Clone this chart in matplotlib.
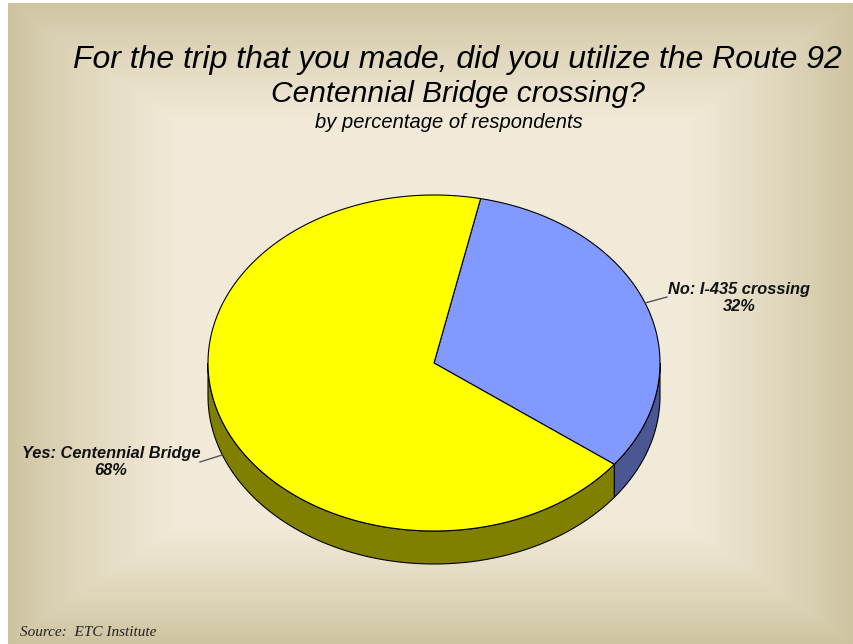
import numpy as np
import matplotlib
matplotlib.use("Agg")
import matplotlib.pyplot as plt
from matplotlib.patches import Polygon

# ---- data ----
categories = ["No: I-435 crossing", "Yes: Centennial Bridge"]
values = [32, 68]
pct_labels = ["32%", "68%"]
title_lines = ["For the trip that you made, did you utilize the Route 92",
               "Centennial Bridge crossing?"]
subtitle = "by percentage of respondents"
source = "Source:  ETC Institute"

# ---- style ----
W, H = 854, 644
top_colors = ["#8299FF", "#FFFF00"]
side_colors = ["#4A5792", "#808000"]
cx, cy, a, b, depth = 434, 363, 226, 168, 33
start_angle = 78.1  # degrees, math convention, slices go clockwise

fig = plt.figure(figsize=(W / 100, H / 100), dpi=100)
ax = fig.add_axes([0, 0, 1, 1])
ax.set_xlim(0, W)
ax.set_ylim(H, 0)
ax.axis("off")

# background bevel gradient
xs = np.arange(W) + 0.5
ys = np.arange(H) + 0.5
X, Y = np.meshgrid(xs, ys)
left = 8
dx = np.minimum(X - left, W - X) / 170.0
dy = np.minimum(Y - 3, H - Y) / 120.0
d = np.clip(np.minimum(dx, dy), 0, 1) ** 0.8
edge = np.array([0.80, 0.76, 0.62])
center = np.array([0.95, 0.92, 0.85])
img = edge[None, None, :] + (center - edge)[None, None, :] * d[..., None]
img[:, :left] = 1.0
img[:3, :] = 1.0
ax.imshow(img, extent=(0, W, H, 0), zorder=0, interpolation="bilinear")
ax.set_xlim(0, W)
ax.set_ylim(H, 0)


def pt(t, off=0.0):
    r = np.radians(t)
    return cx + a * np.cos(r), cy - b * np.sin(r) + off


# slice angle ranges (math convention, t1 < t2)
fracs = np.array(values, dtype=float) / sum(values)
ranges = []
cur = start_angle
for f in fracs:
    ranges.append((cur - 360 * f, cur))
    cur -= 360 * f

# side walls (visible front half: angles 180..360)
for (t1, t2), col in zip(ranges, side_colors):
    for shift in (-360, 0, 360):
        lo = max(t1 + shift, 180)
        hi = min(t2 + shift, 360)
        if hi > lo:
            ts = np.linspace(lo, hi, 100)
            topx, topy = pt(ts)
            botx, boty = pt(ts[::-1], depth)
            xy = np.column_stack([np.concatenate([topx, botx]),
                                  np.concatenate([topy, boty])])
            ax.add_patch(Polygon(xy, closed=True, facecolor=col,
                                 edgecolor="black", linewidth=0.8, zorder=2))

# top face wedges
for (t1, t2), col in zip(ranges, top_colors):
    ts = np.linspace(t1, t2, 200)
    px, py = pt(ts)
    xy = np.column_stack([np.concatenate([[cx], px]), np.concatenate([[cy], py])])
    ax.add_patch(Polygon(xy, closed=True, facecolor=col, edgecolor="black",
                         linewidth=0.8, zorder=3))

# labels
lab_font = dict(fontfamily="Liberation Sans", fontstyle="italic",
                fontweight="bold", fontsize=11.8, color="#111111",
                ha="center", va="center", linespacing=1.15)
ax.text(739, 298, categories[0] + "\n" + pct_labels[0], zorder=5, **lab_font)
ax.text(111, 462, categories[1] + "\n" + pct_labels[1], zorder=5, **lab_font)
ax.plot([645, 667], [303, 297], color="#555555", lw=1, zorder=5)
ax.plot([200, 222], [462, 455], color="#555555", lw=1, zorder=5)

# titles
ax.text(457, 60, title_lines[0], fontfamily="Liberation Sans",
        fontstyle="italic", fontsize=23, ha="center", va="center", color="black")
ax.text(458, 94, title_lines[1], fontfamily="Liberation Sans",
        fontstyle="italic", fontsize=21.5, ha="center", va="center", color="black")
ax.text(449, 122, subtitle, fontfamily="Liberation Sans",
        fontstyle="italic", fontsize=14.5, ha="center", va="center", color="black")
ax.text(20, 632, source, fontfamily="Liberation Serif", fontstyle="italic",
        fontsize=11, ha="left", va="center", color="#222222")

fig.savefig("out.png", dpi=100)
